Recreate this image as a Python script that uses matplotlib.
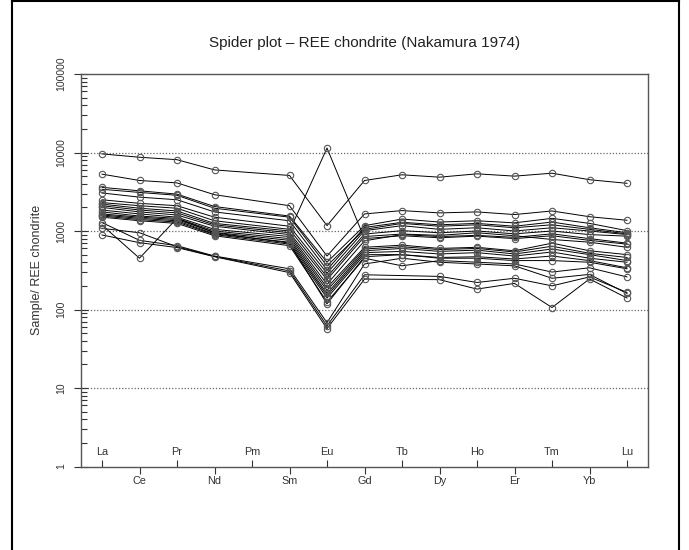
import numpy as np
import matplotlib
matplotlib.use("Agg")
import matplotlib.pyplot as plt
from matplotlib.lines import Line2D

plt.rcParams['font.family'] = ['Liberation Sans', 'DejaVu Sans']

elements = ["La", "Ce", "Pr", "Nd", "Pm", "Sm", "Eu", "Gd", "Tb", "Dy", "Ho", "Er", "Tm", "Yb", "Lu"]
nan = np.nan

# Sample / chondrite values (Pm not analysed)
s01 = [9600, 8700, 8100, 6000, nan, 5100, 1170, 4400, 5200, 4850, 5350, 5000, 5450, 4500, 4050]
s02 = [5300, 4400, 4100, 2900, nan, 2100, 480, 1650, 1820, 1700, 1750, 1620, 1800, 1520, 1370]
s03 = [3600, 3250, 2950, 2050, nan, 1550, 400, 1170, 1420, 1300, 1350, 1270, 1450, 1250, 1010]
s04 = [3400, 3100, 2850, 1950, nan, 1500, 360, 1050, 1250, 1150, 1200, 1100, 1200, 1050, 920]
s05 = [3050, 2700, 2500, 1750, nan, 1350, 320, 1110, 1290, 1200, 1250, 1150, 1300, 1100, 950]
s06 = [2500, 2250, 2100, 1500, nan, 1150, 290, 1010, 1170, 1050, 1100, 1000, 1100, 1000, 900]
s07 = [2300, 2100, 1950, 1350, nan, 1050, 260, 915, 1010, 950, 1000, 920, 1000, 900, 860]
s08 = [2200, 1950, 1800, 1250, nan, 1000, 11400, 800, 870, 820, 860, 800, 870, 760, 680]
s09 = [2100, 1850, 1700, 1200, nan, 950, 240, 850, 915, 880, 950, 870, 780, 720, 620]
s10 = [2000, 1750, 1600, 1150, nan, 900, 210, 750, 900, 850, 880, 830, 920, 800, 700]
s11 = [1850, 1650, 1500, 1050, nan, 850, 190, 620, 660, 600, 620, 560, 700, 560, 500]
s12 = [1750, 1550, 1450, 1000, nan, 800, 175, 590, 630, 580, 600, 540, 640, 520, 460]
s13 = [1650, 1500, 1400, 960, nan, 760, 160, 560, 600, 550, 570, 510, 590, 500, 420]
s14 = [1600, 1450, 1350, 920, nan, 720, 150, 530, 550, 510, 530, 480, 540, 450, 400]
s15 = [1550, 1400, 1300, 900, nan, 680, 140, 500, 500, 460, 470, 440, 480, 420, 340]
s16 = [1190, 450, 1450, 950, nan, 700, 118, 470, 500, 450, 450, 420, 420, 400, 330]
s17 = [1500, 1350, 1250, 870, nan, 650, 125, 450, 360, 420, 400, 380, 300, 340, 260]
s18 = [1280, 760, 650, 480, nan, 330, 68, 380, 450, 400, 380, 360, 250, 280, 160]
s19 = [1080, 950, 630, 475, nan, 310, 62, 277, nan, 264, 221, 250, 200, 260, 165]
s20 = [890, 710, 615, 470, nan, 295, 57, 244, nan, 240, 182, 215, 106, 245, 140]

samples = [s01, s02, s03, s04, s05, s06, s07, s08, s09, s10,
           s11, s12, s13, s14, s15, s16, s17, s18, s19, s20]

W, H = 689, 550
fig = plt.figure(figsize=(W / 100, H / 100), dpi=100)
ax = fig.add_axes([81 / W, 1 - 466.5 / H, (648 - 81) / W, (466.5 - 74) / H])

x = np.arange(1, len(elements) + 1)
for s in samples:
    v = np.array(s, dtype=float)
    m = ~np.isnan(v)
    ax.plot(x[m], v[m], color='black', lw=0.7, zorder=3)
    ax.plot(x[m], v[m], ls='none', marker='o', ms=4.6, mfc='none',
            mec='#555555', mew=0.8, zorder=4)

ax.set_yscale('log')
ax.set_ylim(1, 100000)
ax.set_xlim(0.44, 15.56)

# grid lines
for g in [10, 100, 1000, 10000]:
    ax.axhline(g, color='#666666', ls=(0, (1, 1.5)), lw=0.9, zorder=1)

# y ticks
ax.set_yticks([1, 10, 100, 1000, 10000, 100000])
ax.set_yticklabels(['1', '10', '100', '1000', '10000', '100000'], rotation=90,
                   va='center', fontsize=7.5, color='#333333')
ax.yaxis.set_minor_locator(matplotlib.ticker.LogLocator(base=10, subs=np.arange(2, 10)))
ax.yaxis.set_minor_formatter(matplotlib.ticker.NullFormatter())
ax.tick_params(axis='y', which='major', direction='inout', length=10, width=0.8,
               color='#333333', pad=6)
ax.tick_params(axis='y', which='minor', direction='in', length=4, width=0.8,
               color='#333333')

# x ticks: odd elements inside (labels above axis), even elements outside
odd = x[0::2]
even = x[1::2]
ax.set_xticks(odd)
ax.set_xticklabels([])
ax.set_xticks(even, minor=True)
ax.tick_params(axis='x', which='major', direction='in', length=5, width=0.8, color='#333333')
ax.tick_params(axis='x', which='minor', direction='out', length=5, width=0.8, color='#333333')
for i, el in enumerate(elements):
    if i % 2 == 0:
        ax.annotate(el, xy=(x[i], 0), xycoords=('data', 'axes fraction'),
                    xytext=(0, 6.5), textcoords='offset points', ha='center',
                    va='bottom', fontsize=7.8, color='#333333')
    else:
        ax.annotate(el, xy=(x[i], 0), xycoords=('data', 'axes fraction'),
                    xytext=(0, -6.5), textcoords='offset points', ha='center',
                    va='top', fontsize=7.8, color='#333333')

for sp in ax.spines.values():
    sp.set_color('#555555')
    sp.set_linewidth(1.0)

ax.set_ylabel('Sample/ REE chondrite', fontsize=9, color='#333333', labelpad=9)
ax.set_title('Spider plot – REE chondrite (Nakamura 1974)', fontsize=11,
             color='#222222', pad=19.5)

# outer frame
fig.add_artist(Line2D([12 / W, 12 / W], [0, 1], color='black', lw=1.5))
fig.add_artist(Line2D([679 / W, 679 / W], [0, 1], color='black', lw=1.5))
fig.add_artist(Line2D([12 / W, 679 / W], [1 - 1 / H, 1 - 1 / H], color='black', lw=1.5))

fig.savefig('out.png', dpi=100)
